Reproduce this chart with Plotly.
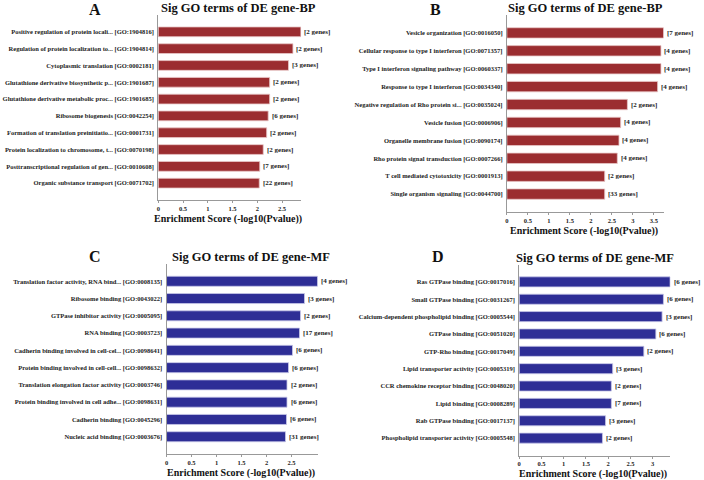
import plotly.graph_objects as go

W, H = 704, 480

# ---------------- data ----------------
a_terms = ["Positive regulation of protein locali... [GO:1904816]",
           "Regulation of protein localization to... [GO:1904814]",
           "Cytoplasmic translation [GO:0002181]",
           "Glutathione derivative biosynthetic p... [GO:1901687]",
           "Glutathione derivative metabolic proc... [GO:1901685]",
           "Ribosome biogenesis [GO:0042254]",
           "Formation of translation preinitiatio... [GO:0001731]",
           "Protein localization to chromosome, t... [GO:0070198]",
           "Posttranscriptional regulation of gen... [GO:0010608]",
           "Organic substance transport [GO:0071702]"]
a_scores = [2.88, 2.72, 2.63, 2.25, 2.25, 2.22, 2.19, 2.12, 2.05, 2.04]
a_genes = ["[2 genes]", "[2 genes]", "[3 genes]", "[2 genes]", "[2 genes]",
           "[6 genes]", "[2 genes]", "[2 genes]", "[7 genes]", "[22 genes]"]

b_terms = ["Vesicle organization [GO:0016050]",
           "Cellular response to type I interferon [GO:0071357]",
           "Type I interferon signaling pathway [GO:0060337]",
           "Response to type I interferon [GO:0034340]",
           "Negative regulation of Rho protein si... [GO:0035024]",
           "Vesicle fusion [GO:0006906]",
           "Organelle membrane fusion [GO:0090174]",
           "Rho protein signal transduction [GO:0007266]",
           "T cell mediated cytotoxicity [GO:0001913]",
           "Single organism signaling [GO:0044700]"]
b_scores = [3.73, 3.67, 3.67, 3.59, 2.87, 2.71, 2.67, 2.63, 2.33, 2.33]
b_genes = ["[7 genes]", "[4 genes]", "[4 genes]", "[4 genes]", "[2 genes]",
           "[4 genes]", "[4 genes]", "[4 genes]", "[2 genes]", "[33 genes]"]

c_terms = ["Translation factor activity, RNA bind... [GO:0008135]",
           "Ribosome binding [GO:0043022]",
           "GTPase inhibitor activity [GO:0005095]",
           "RNA binding [GO:0003723]",
           "Cadherin binding involved in cell-cel... [GO:0098641]",
           "Protein binding involved in cell-cell... [GO:0098632]",
           "Translation elongation factor activity [GO:0003746]",
           "Protein binding involved in cell adhe... [GO:0098631]",
           "Cadherin binding [GO:0045296]",
           "Nucleic acid binding [GO:0003676]"]
c_scores = [3.02, 2.76, 2.68, 2.66, 2.52, 2.44, 2.41, 2.41, 2.40, 2.38]
c_genes = ["[4 genes]", "[3 genes]", "[2 genes]", "[17 genes]", "[6 genes]",
           "[6 genes]", "[2 genes]", "[6 genes]", "[6 genes]", "[31 genes]"]

d_terms = ["Ras GTPase binding [GO:0017016]",
           "Small GTPase binding [GO:0031267]",
           "Calcium-dependent phospholipid binding [GO:0005544]",
           "GTPase binding [GO:0051020]",
           "GTP-Rho binding [GO:0017049]",
           "Lipid transporter activity [GO:0005319]",
           "CCR chemokine receptor binding [GO:0048020]",
           "Lipid binding [GO:0008289]",
           "Rab GTPase binding [GO:0017137]",
           "Phospholipid transporter activity [GO:0005548]"]
d_scores = [3.39, 3.24, 3.21, 3.07, 2.80, 2.10, 2.07, 2.07, 1.94, 1.87]
d_genes = ["[6 genes]", "[6 genes]", "[3 genes]", "[6 genes]", "[2 genes]",
           "[3 genes]", "[2 genes]", "[7 genes]", "[3 genes]", "[2 genes]"]

panel_letters = ["A", "B", "C", "D"]
panel_titles = ["Sig GO terms of DE gene-BP", "Sig GO terms of DE gene-BP",
                "Sig GO terms of DE gene-MF", "Sig GO terms of DE gene-MF"]
x_tickvals = [[0, 0.5, 1, 1.5, 2, 2.5],
              [0, 0.5, 1, 1.5, 2, 2.5, 3, 3.5],
              [0, 0.5, 1, 1.5, 2, 2.5],
              [0, 0.5, 1, 1.5, 2, 2.5, 3]]
x_ticktext = [["0", "0.5", "1", "1.5", "2", "2.5"],
              ["0", "0.5", "1", "1.5", "2", "2.5", "3", "3.5"],
              ["0", "0.5", "1", "1.5", "2", "2.5"],
              ["0", "0.5", "1", "1.5", "2", "2.5", "3"]]
x_title = "Enrichment Score (-log10(Pvalue))"

# ---------------- layout (pixel boxes of plot areas) ----------------
boxes = [(156.7, 300.0, 15, 200),
         (506.3, 663.7, 15, 212),
         (165.0, 316.7, 264, 454),
         (518.7, 670.3, 264.5, 455.5)]
colors = ["#9b2d30", "#9b2d30", "#2e2e96", "#2e2e96"]
edge = ["#e8c8c8", "#e8c8c8", "#c8c8e8", "#c8c8e8"]
panels = [(a_terms, a_scores, a_genes), (b_terms, b_scores, b_genes),
          (c_terms, c_scores, c_genes), (d_terms, d_scores, d_genes)]

FONT = "Liberation Serif"
fig = go.Figure()
annotations = []

for i, (terms, scores, genes) in enumerate(panels):
    x0, x1, y0, y1 = boxes[i]
    xa = "x" if i == 0 else f"x{i+1}"
    ya = "y" if i == 0 else f"y{i+1}"
    idx = list(range(len(terms)))
    fig.add_trace(go.Bar(
        x=scores, y=idx, orientation="h", width=0.58,
        marker=dict(color=colors[i], line=dict(color=edge[i], width=0.8)),
        xaxis=xa, yaxis=ya, showlegend=False, hoverinfo="x+y"))
    # gene-count labels anchored at the bar ends (data coordinates)
    for s, k, g in zip(scores, idx, genes):
        annotations.append(dict(
            text=g, x=s, y=k, xref=xa, yref=ya, showarrow=False,
            xanchor="left", yanchor="middle", xshift=1.5,
            font=dict(family=FONT, size=7, color="#222", weight="bold")))
    xmax = max(scores)
    xkey = "xaxis" if i == 0 else f"xaxis{i+1}"
    ykey = "yaxis" if i == 0 else f"yaxis{i+1}"
    fig.layout[xkey] = dict(
        domain=[x0 / W, x1 / W], anchor=ya, range=[0, xmax * 1.002],
        tickvals=x_tickvals[i], ticktext=x_ticktext[i],
        showgrid=False, zeroline=False, showline=True, linecolor="#999",
        linewidth=1, ticks="outside", ticklen=2, tickcolor="#999",
        tickfont=dict(family=FONT, size=6.5, color="#222", weight="bold"))
    fig.layout[ykey] = dict(
        domain=[1 - y1 / H, 1 - y0 / H], anchor=xa, range=[10, -1],
        tickvals=idx, ticktext=terms, showgrid=False, zeroline=False,
        showline=True, linecolor="#999", linewidth=1, ticks="",
        ticklabelstandoff=2,
        tickfont=dict(family=FONT, size=6.5, color="#222", weight="bold"))
    # subplot title
    annotations.append(dict(
        text=panel_titles[i], x=(x0 + x1) / 2 / W + (0.012 if i in (0, 2) else 0),
        y=1 - (y0 - 7) / H, xref="paper", yref="paper", showarrow=False,
        xanchor="center", yanchor="middle",
        font=dict(family=FONT, size=12.5, color="#111", weight="bold")))
    # x axis title
    annotations.append(dict(
        text=x_title, x=(x0 + x1) / 2 / W - 0.002, y=1 - (y1 + 18.5) / H,
        xref="paper", yref="paper", showarrow=False, xanchor="center",
        yanchor="middle",
        font=dict(family=FONT, size=10, color="#111", weight="bold")))

letter_pos = [(93, 9), (435, 9), (93, 256), (437, 256)]
for letter, (lx, ly) in zip(panel_letters, letter_pos):
    annotations.append(dict(
        text=letter, x=lx / W, y=1 - ly / H, xref="paper", yref="paper",
        showarrow=False, xanchor="center", yanchor="middle",
        font=dict(family=FONT, size=16, color="#111", weight="bold")))

fig.update_layout(
    width=W, height=H, margin=dict(l=0, r=0, t=0, b=0),
    paper_bgcolor="white", plot_bgcolor="white",
    annotations=annotations, bargap=0.4)

fig.write_html("out.html", config={"displayModeBar": False},
               post_script="document.body.style.margin='0';"
                           "document.body.style.overflow='hidden';")
